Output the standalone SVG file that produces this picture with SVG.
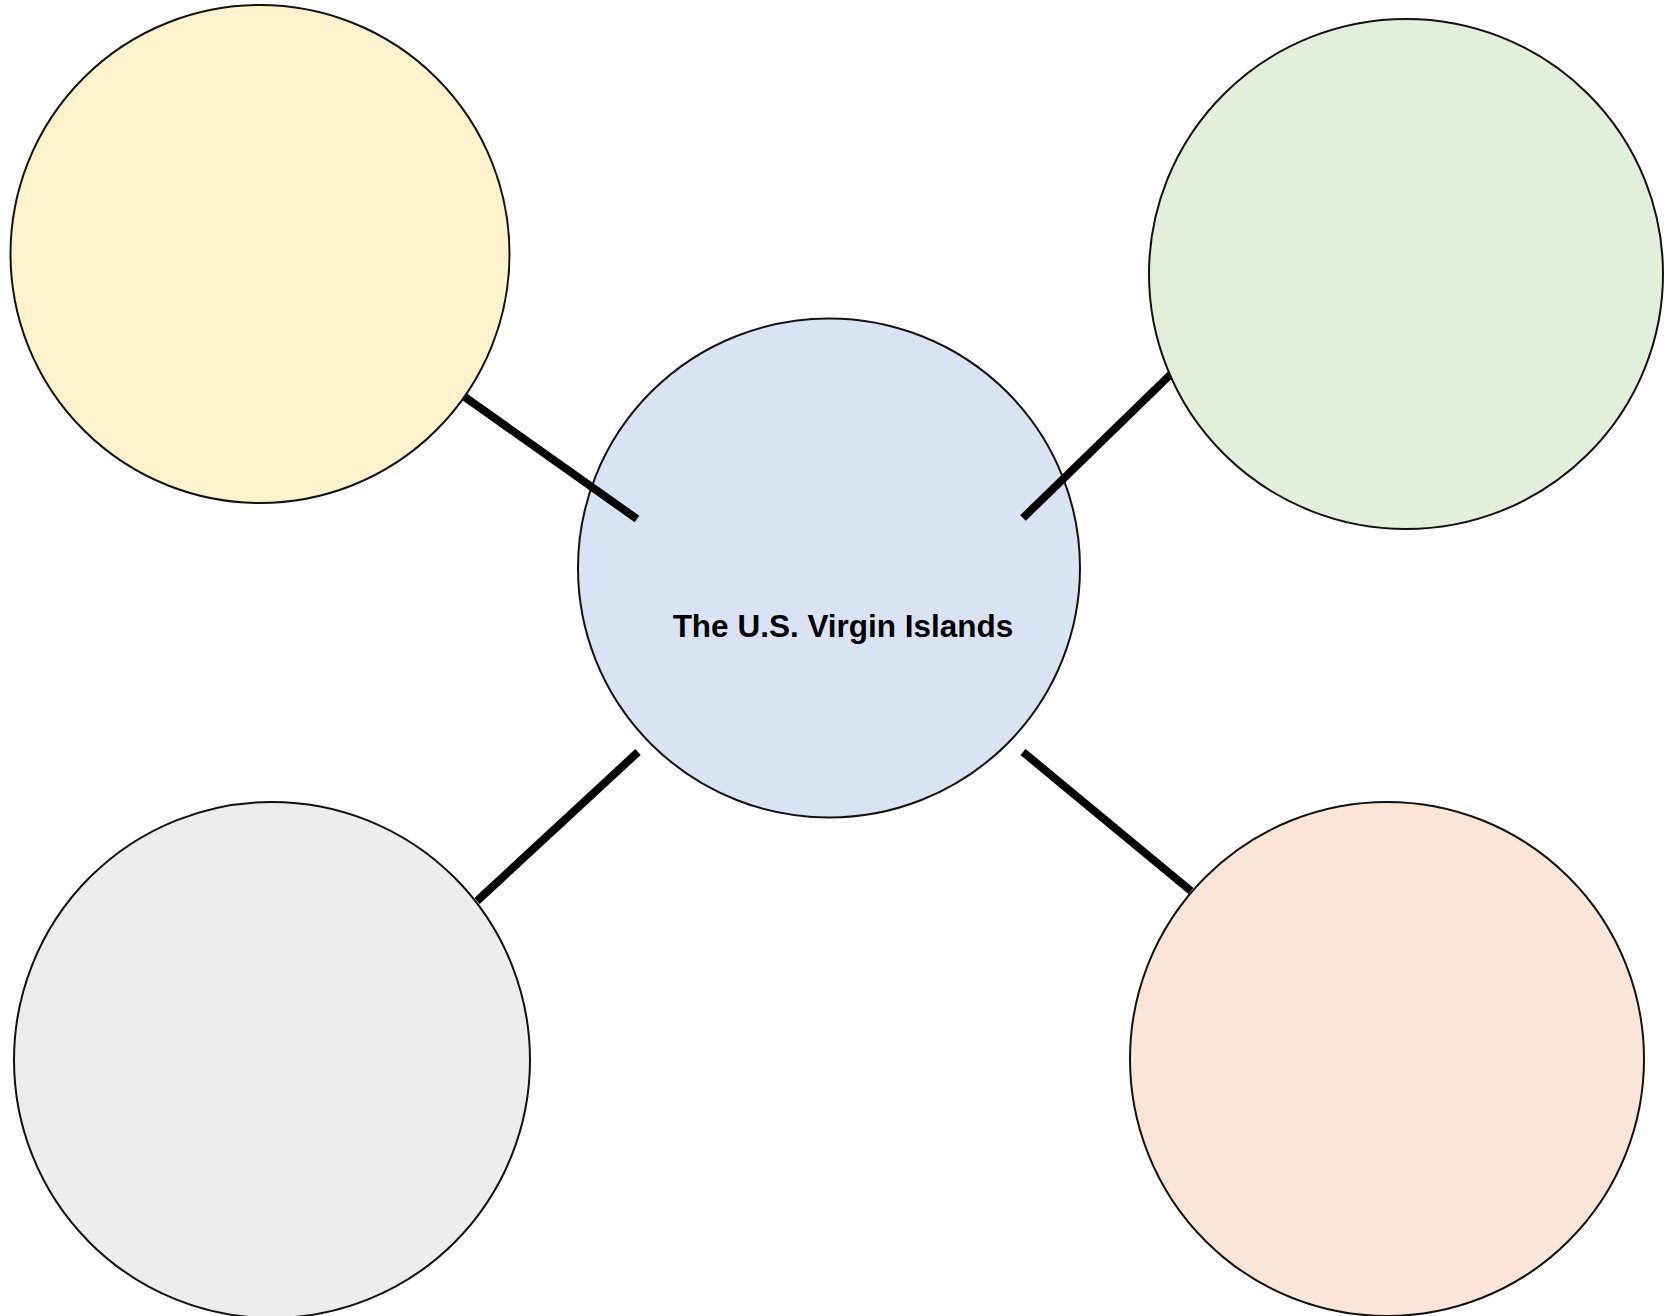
<svg xmlns="http://www.w3.org/2000/svg" width="1665" height="1316" viewBox="0 0 1665 1316">
<style>
.node{stroke:#111;stroke-width:2}
.conn line{stroke:#000;stroke-width:8;stroke-linecap:butt}
.label{font-family:"Liberation Sans",Arial,sans-serif;font-weight:bold;font-size:31.5px;fill:#000}
</style>
<rect width="1665" height="1316" fill="#fff"/>
<g id="center">
<ellipse class="node" cx="829" cy="568" rx="251" ry="249.5" fill="#DAE3F3"/>
<text class="label" x="843" y="637" text-anchor="middle">The U.S. Virgin Islands</text>
</g>
<g id="connectors" class="conn">
<line x1="462" y1="395" x2="637" y2="519"/>
<line x1="1023" y1="518" x2="1171" y2="374"/>
<line x1="638" y1="752" x2="477" y2="901"/>
<line x1="1023" y1="752" x2="1191" y2="891"/>
</g>
<g id="top-left">
<ellipse class="node" cx="260" cy="254" rx="249.5" ry="249" fill="#FFF2CC"/>
</g>
<g id="top-right">
<ellipse class="node" cx="1406" cy="274" rx="257" ry="255" fill="#E2EFDA"/>
</g>
<g id="bottom-left">
<ellipse class="node" cx="272" cy="1060" rx="258" ry="258" fill="#EDEDED"/>
</g>
<g id="bottom-right">
<ellipse class="node" cx="1387" cy="1059" rx="257" ry="257" fill="#FBE5D6"/>
</g>
</svg>
